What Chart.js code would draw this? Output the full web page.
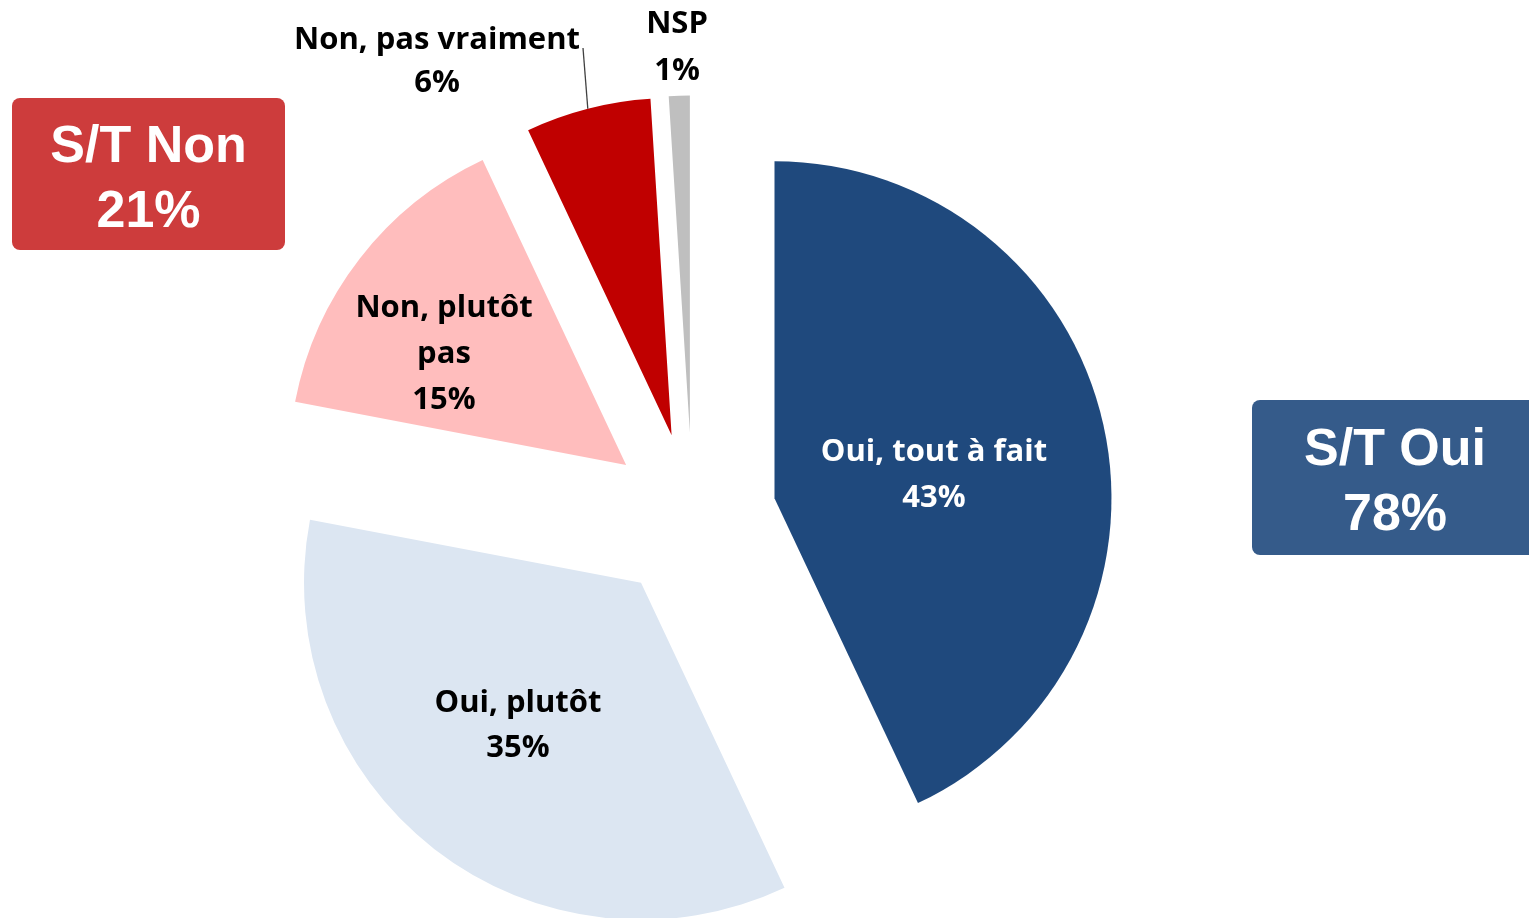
<!DOCTYPE html>
<html>
<head>
<meta charset="utf-8">
<script src="https://cdn.jsdelivr.net/npm/chart.js@4.4.1/dist/chart.umd.min.js"></script>
<style>
  html, body { margin: 0; padding: 0; background: #fff; }
  canvas { display: block; }
</style>
</head>
<body>
<canvas id="pieChart" width="1529" height="918"></canvas>
<script>
'use strict';

// données du sondage
const categories = ['Oui, tout à fait', 'Oui, plutôt', 'Non, plutôt pas', 'Non, pas vraiment', 'NSP'];
const shares = [43, 35, 15, 6, 1];
const summaryNames = ['S/T Non', 'S/T Oui'];
const summaryShares = [21, 78];

// style
const sliceColors = ['#1F497D', '#DCE6F2', '#FFBDBD', '#C00000', '#BFBFBF'];
const textColors = ['#FFFFFF', '#000000', '#000000', '#000000', '#000000'];
const explodeDist = 84;   // éclatement des parts (px)
const labelFont = 'bold 31px "Open Sans"';
// centre x, ligne de base de la 1re ligne, interligne, largeur max
const labelLayout = [
  [934, 461, 46, 400],
  [518, 712, 45, 400],
  [444, 317, 46, 200],
  [437, 49, 43, 400],
  [677, 33, 47, 400]
];
const boxLayout = [
  { x: 12, y: 98, w: 273, h: 152, color: '#CD3C3C', cx: 148.5, base: [162, 227] },
  { x: 1252, y: 400, w: 286, h: 155, color: '#355B8A', cx: 1395, base: [465, 530] }
];

// fait glisser chaque part le long de sa bissectrice
const explodeSlices = {
  id: 'explodeSlices',
  afterDatasetUpdate(chart, args) {
    args.meta.data.forEach(function(arc) {
      const mid = (arc.startAngle + arc.endAngle) / 2;
      arc.x += Math.cos(mid) * explodeDist;
      arc.y += Math.sin(mid) * explodeDist;
    });
  }
};

function wrapText(ctx, text, maxWidth) {
  const words = text.split(' ');
  const lines = [];
  let line = '';
  words.forEach(function(w) {
    const test = line ? line + ' ' + w : w;
    if (line && ctx.measureText(test).width > maxWidth) {
      lines.push(line);
      line = w;
    } else {
      line = test;
    }
  });
  lines.push(line);
  return lines;
}

const sliceLabels = {
  id: 'sliceLabels',
  afterDatasetsDraw(chart) {
    const ctx = chart.ctx;
    const arcs = chart.getDatasetMeta(0).data;
    ctx.save();

    // trait de rappel pour "Non, pas vraiment"
    const red = arcs[3];
    const mid = (red.startAngle + red.endAngle) / 2;
    ctx.strokeStyle = '#404040';
    ctx.lineWidth = 1.3;
    ctx.beginPath();
    ctx.moveTo(583, 48);
    ctx.lineTo(red.x + Math.cos(mid) * red.outerRadius, red.y + Math.sin(mid) * red.outerRadius);
    ctx.stroke();

    ctx.font = labelFont;
    ctx.textAlign = 'center';
    ctx.textBaseline = 'alphabetic';
    categories.forEach(function(name, i) {
      const lay = labelLayout[i];
      const lines = wrapText(ctx, name, lay[3]);
      lines.push(shares[i] + '%');
      ctx.fillStyle = textColors[i];
      lines.forEach(function(t, k) {
        ctx.fillText(t, lay[0], lay[1] + k * lay[2]);
      });
    });

    // encadrés S/T
    ctx.font = 'bold 52px "Liberation Sans", Arial, sans-serif';
    boxLayout.forEach(function(b, i) {
      ctx.fillStyle = b.color;
      ctx.beginPath();
      ctx.roundRect(b.x, b.y, b.w, b.h, 8);
      ctx.fill();
      ctx.fillStyle = '#FFFFFF';
      ctx.fillText(summaryNames[i], b.cx, b.base[0]);
      ctx.fillText(summaryShares[i] + '%', b.cx, b.base[1]);
    });
    ctx.restore();
  }
};

const context = document.querySelector('#pieChart').getContext('2d');
new Chart(context, {
  type: 'pie',
  data: {
    labels: categories,
    datasets: [{
      data: shares,
      backgroundColor: sliceColors,
      borderWidth: 0
    }]
  },
  options: {
    responsive: false,
    animation: false,
    events: [],
    radius: 337,
    layout: {
      padding: { left: 0, right: 144, top: 115, bottom: 0 }
    },
    plugins: {
      legend: { display: false },
      tooltip: { enabled: false }
    }
  },
  plugins: [explodeSlices, sliceLabels]
});
</script>
</body>
</html>
